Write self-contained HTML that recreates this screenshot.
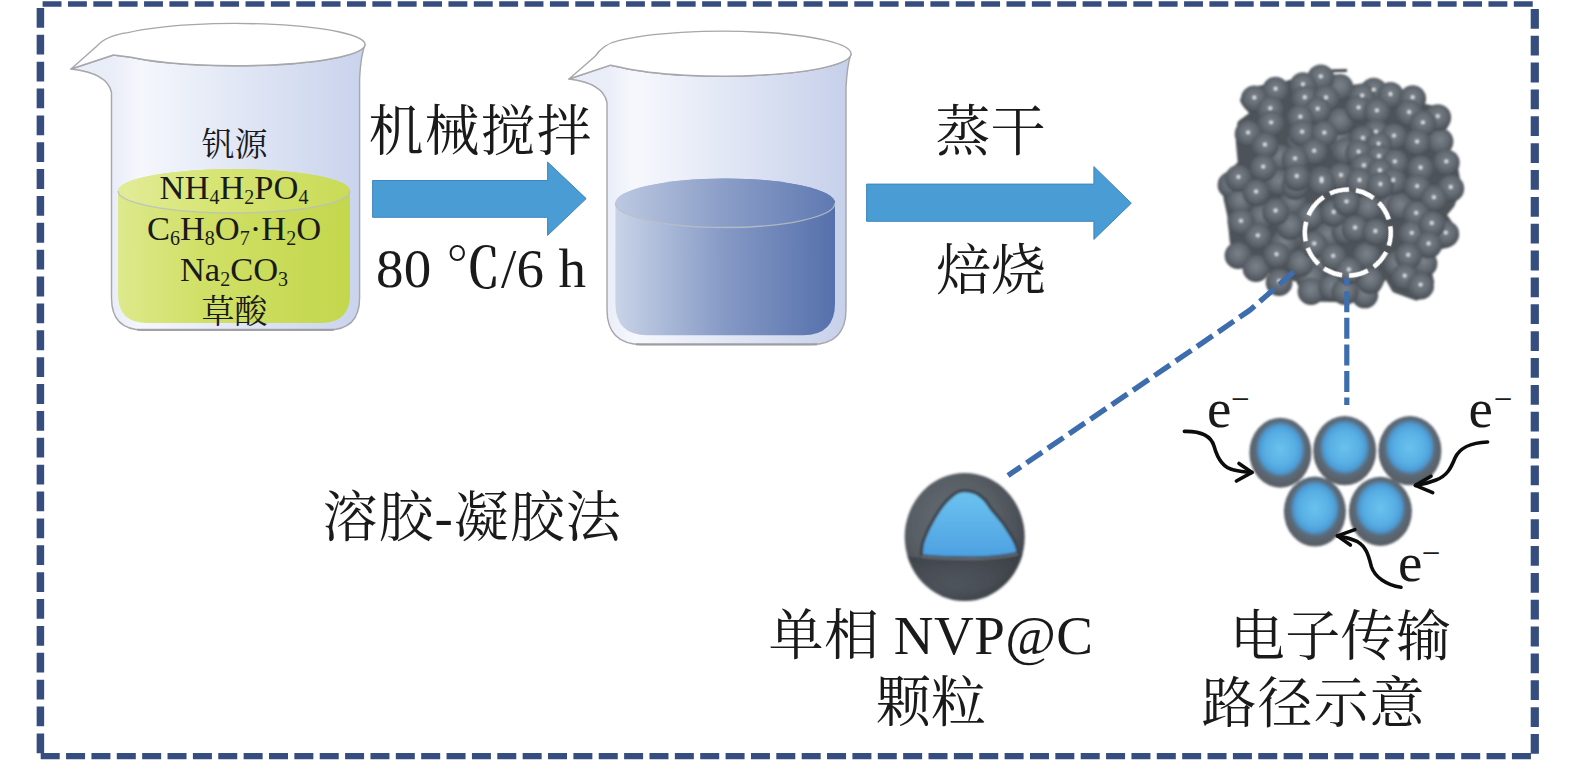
<!DOCTYPE html>
<html lang="zh">
<head>
<meta charset="utf-8">
<title>溶胶-凝胶法</title>
<style>
html,body{margin:0;padding:0;background:#fff;}
body{width:1575px;height:762px;overflow:hidden;}
svg{display:block;}
text{font-family:"Liberation Serif","Noto Serif CJK SC",serif;fill:#1a1a1a;}
.big{font-size:55px;}
.sm{font-size:34.5px;}
.cj{font-size:33px;}
</style>
</head>
<body>
<svg width="1575" height="762" viewBox="0 0 1575 762">
<defs>
<linearGradient id="glass1" x1="111" x2="362" y1="0" y2="0" gradientUnits="userSpaceOnUse">
<stop offset="0" stop-color="#e9edf8"/><stop offset=".12" stop-color="#f5f7fd"/><stop offset=".45" stop-color="#e4e9f6"/><stop offset="1" stop-color="#c9d3ec"/>
</linearGradient>
<linearGradient id="glass2" x1="606" x2="848" y1="0" y2="0" gradientUnits="userSpaceOnUse">
<stop offset="0" stop-color="#e9edf8"/><stop offset=".12" stop-color="#f7f8fd"/><stop offset=".45" stop-color="#e4e9f6"/><stop offset="1" stop-color="#c6d0ea"/>
</linearGradient>
<linearGradient id="liq1" x1="118" x2="350" y1="0" y2="0" gradientUnits="userSpaceOnUse">
<stop offset="0" stop-color="#dde98c"/><stop offset=".35" stop-color="#d0e067"/><stop offset="1" stop-color="#c3d74c"/>
</linearGradient>
<linearGradient id="liq1t" x1="118" x2="350" y1="0" y2="0" gradientUnits="userSpaceOnUse">
<stop offset="0" stop-color="#e2ec98"/><stop offset=".4" stop-color="#d7e575"/><stop offset="1" stop-color="#c9db57"/>
</linearGradient>
<linearGradient id="liq2" x1="615" x2="835" y1="0" y2="0" gradientUnits="userSpaceOnUse">
<stop offset="0" stop-color="#c9d4e8"/><stop offset=".5" stop-color="#8599c5"/><stop offset="1" stop-color="#5570ab"/>
</linearGradient>
<linearGradient id="liq2t" x1="615" x2="835" y1="0" y2="0" gradientUnits="userSpaceOnUse">
<stop offset="0" stop-color="#bdc9e1"/><stop offset=".5" stop-color="#8a9dc7"/><stop offset="1" stop-color="#5f79b1"/>
</linearGradient>
<radialGradient id="sph" cx=".5" cy=".42" r=".55">
<stop offset="0" stop-color="#7b828a"/><stop offset=".5" stop-color="#676e76"/><stop offset=".85" stop-color="#555b62"/><stop offset="1" stop-color="#494e55"/>
</radialGradient>
<radialGradient id="core" cx=".5" cy=".45" r=".5">
<stop offset="0" stop-color="#6ac2ed"/><stop offset=".5" stop-color="#57aee3"/><stop offset=".67" stop-color="#4d9cd6"/><stop offset=".8" stop-color="#5a6b7a"/><stop offset="1" stop-color="#5a6067"/>
</radialGradient>
<radialGradient id="shell" cx=".42" cy=".4" r=".62">
<stop offset="0" stop-color="#6a7077"/><stop offset=".6" stop-color="#575d64"/><stop offset=".88" stop-color="#4a4f56"/><stop offset="1" stop-color="#3e4349"/>
</radialGradient>
<clipPath id="sphclip"><ellipse cx="964.7" cy="537" rx="60" ry="64"/></clipPath>
<linearGradient id="band" x1="0" x2="0" y1="556" y2="588" gradientUnits="userSpaceOnUse">
<stop offset="0" stop-color="#3a3f45" stop-opacity=".85"/><stop offset="1" stop-color="#3a3f45" stop-opacity="0"/>
</linearGradient>
<linearGradient id="blue1" x1="0" x2="0" y1="490" y2="560" gradientUnits="userSpaceOnUse">
<stop offset="0" stop-color="#6cc4ef"/><stop offset="1" stop-color="#4c9fe0"/>
</linearGradient>
<filter id="b1" x="-20%" y="-20%" width="140%" height="140%"><feGaussianBlur stdDeviation="1.2"/></filter>
<filter id="b08" x="-10%" y="-10%" width="120%" height="120%"><feGaussianBlur stdDeviation="0.85"/></filter>
<filter id="b05" x="-10%" y="-10%" width="120%" height="120%"><feGaussianBlur stdDeviation="0.6"/></filter>
</defs>

<!-- outer dashed frame -->
<g stroke="#364d80" fill="none">
<line x1="42.6" y1="4" x2="1534" y2="4" stroke-width="5.6" stroke-dasharray="18.9 6.466"/>
<line x1="40.4" y1="7.9" x2="40.4" y2="753.5" stroke-width="7.5" stroke-dasharray="19.8 7.07"/>
<line x1="1534.8" y1="8.9" x2="1534.8" y2="754" stroke-width="8.2" stroke-dasharray="19.8 7.056"/>
<line x1="40.7" y1="756.2" x2="1531.5" y2="756.2" stroke-width="6.2" stroke-dasharray="19 6.366"/>
</g>

<!-- beaker 1 -->
<path d="M71,69 Q107.5,73 111.5,92.5 L111.5,298 Q111.5,330 143.5,330 L327.6,330 Q359.6,330 359.6,298 L359.6,78.6 Q360.6,56.6 365,44.6 A130,21.2 0 0 1 131.0,57.3 L113.5,55 Z" fill="url(#glass1)" stroke="#a6a6ab" stroke-width="1.4" stroke-linejoin="round"/>
<path d="M137.5,329.8 L333.6,329.8" stroke="#9a9aa0" stroke-width="2.2" fill="none" opacity=".8"/>
<path d="M118,191 A116.0,22 0 0 1 350,191 L350,294 Q350,323 321,323 L147,323 Q118,323 118,294 Z" fill="url(#liq1)"/>
<ellipse cx="234.0" cy="191" rx="116.0" ry="22" fill="url(#liq1t)"/>
<path d="M118,191 A116.0,22 0 0 0 350,191" fill="none" stroke="#b9bfc4" stroke-width="1.3" opacity=".85"/>
<path d="M71,69 L97,46 Q106,35.557522919266155 128.0,32.6 A130,21.2 0 0 1 365,44.6 A130,21.2 0 0 1 131.0,57.3 L113.5,55 Z" fill="#ffffff" stroke="#a6a6ab" stroke-width="1.4" stroke-linejoin="round"/>
<text class="cj" x="234.5" y="156" text-anchor="middle">钒源</text>
<text class="sm" x="234" y="199" text-anchor="middle">NH<tspan font-size="20" dy="4.5">4</tspan><tspan dy="-4.5">H</tspan><tspan font-size="20" dy="4.5">2</tspan><tspan dy="-4.5">PO</tspan><tspan font-size="20" dy="4.5">4</tspan></text>
<text class="sm" x="234" y="240.4" text-anchor="middle">C<tspan font-size="20" dy="4.5">6</tspan><tspan dy="-4.5">H</tspan><tspan font-size="20" dy="4.5">8</tspan><tspan dy="-4.5">O</tspan><tspan font-size="20" dy="4.5">7</tspan><tspan dy="-4.5">·H</tspan><tspan font-size="20" dy="4.5">2</tspan><tspan dy="-4.5">O</tspan></text>
<text class="sm" x="234" y="281" text-anchor="middle">Na<tspan font-size="20" dy="4.5">2</tspan><tspan dy="-4.5">CO</tspan><tspan font-size="20" dy="4.5">3</tspan></text>
<text class="cj" x="234.5" y="322.6" text-anchor="middle">草酸</text>

<!-- arrow 1 -->
<path d="M372.6,180.5 L547.6,180.5 L547.6,162 L586.2,198.6 L547.6,235.4 L547.6,217.3 L372.6,217.3 Z" fill="#4a9cd5" stroke="#3f86bd" stroke-width="1"/>
<text class="big" x="480.6" y="150" text-anchor="middle" letter-spacing="1">机械搅拌</text>
<text class="big" x="376" y="287.3" letter-spacing=".3">80 <tspan font-weight="500">℃</tspan>/6 h</text>

<!-- beaker 2 -->
<path d="M569,79 Q603,83 607,102.5 L607,309.5 Q607,344.5 642,344.5 L811,344.5 Q846,344.5 846,309.5 L846,87.7 Q847,65.7 851,53.7 A128,22.5 0 0 1 620.6,67.2 L610.5,65.2 Z" fill="url(#glass2)" stroke="#a6a6ab" stroke-width="1.4" stroke-linejoin="round"/>
<path d="M636,344.3 L817,344.3" stroke="#9a9aa0" stroke-width="2.2" fill="none" opacity=".8"/>
<path d="M615.4,203 A109.80000000000001,24.5 0 0 1 835,203 L835,303.3 Q835,335.3 803,335.3 L647.4,335.3 Q615.4,335.3 615.4,303.3 Z" fill="url(#liq2)"/>
<ellipse cx="725.2" cy="203" rx="109.80000000000001" ry="24.5" fill="url(#liq2t)"/>
<path d="M615.4,203 A109.80000000000001,24.5 0 0 0 835,203" fill="none" stroke="#b9bfc4" stroke-width="1.3" opacity=".85"/>
<path d="M569,79 L594.6,56.8 Q603.6,43.91906913601361 617.7,40.9 A128,22.5 0 0 1 851,53.7 A128,22.5 0 0 1 620.6,67.2 L610.5,65.2 Z" fill="#ffffff" stroke="#a6a6ab" stroke-width="1.4" stroke-linejoin="round"/>

<!-- arrow 2 -->
<path d="M866.6,184.1 L1093.9,184.1 L1093.9,166.6 L1131.3,203.2 L1093.9,239.4 L1093.9,221.3 L866.6,221.3 Z" fill="#4a9cd5" stroke="#3f86bd" stroke-width="1"/>
<text class="big" x="990.5" y="150" text-anchor="middle">蒸干</text>
<text class="big" x="991" y="289" text-anchor="middle">焙烧</text>

<!-- particle cluster -->
<g filter="url(#b08)">
<path d="M1322,71 L1347,70.5" stroke="#2a2c30" stroke-width="2.5"/>
<polygon points="1308.7,77.5 1336.0,78.9 1340.8,91.0 1355.7,89.0 1375.3,86.8 1395.3,93.2 1411.9,96.7 1422.1,108.0 1439.1,111.3 1444.0,124.6 1434.7,138.1 1448.2,154.8 1453.5,167.8 1457.0,187.5 1450.2,204.3 1441.5,214.5 1450.7,228.0 1447.6,243.2 1428.7,247.4 1425.4,264.7 1429.7,282.0 1416.6,295.9 1395.8,288.5 1385.5,270.5 1375.5,288.2 1355.7,298.0 1308.4,296.9 1299.3,277.8 1275.5,271.6 1248.1,258.8 1234.2,241.7 1231.7,215.0 1227.9,198.0 1228.0,178.1 1242.4,164.0 1240.3,141.3 1241.7,124.2 1255.4,114.0 1244.6,100.2 1258.0,90.4 1285.5,85.7 1295.5,82.7" fill="#4d5359" stroke="#4d5359" stroke-width="9" stroke-linejoin="round"/>
<circle cx="1279.8" cy="157.8" r="13.4" fill="url(#sph)"/>
<circle cx="1278.0" cy="182.5" r="13.4" fill="url(#sph)"/>
<circle cx="1340.0" cy="87.5" r="13.4" fill="url(#sph)"/>
<circle cx="1338.0" cy="140.1" r="13.4" fill="url(#sph)"/>
<circle cx="1327.6" cy="235.8" r="13.4" fill="url(#sph)"/>
<circle cx="1288.6" cy="239.4" r="13.4" fill="url(#sph)"/>
<circle cx="1391.4" cy="207.5" r="13.4" fill="url(#sph)"/>
<circle cx="1424.0" cy="263.5" r="13.4" fill="url(#sph)"/>
<circle cx="1262.0" cy="216.5" r="13.4" fill="url(#sph)"/>
<circle cx="1300.0" cy="141.5" r="13.4" fill="url(#sph)"/>
<circle cx="1345.0" cy="231.5" r="13.4" fill="url(#sph)"/>
<circle cx="1322.0" cy="263.5" r="13.4" fill="url(#sph)"/>
<circle cx="1238.0" cy="255.5" r="13.4" fill="url(#sph)"/>
<circle cx="1256.0" cy="268.5" r="13.4" fill="url(#sph)"/>
<circle cx="1311.0" cy="277.5" r="13.4" fill="url(#sph)"/>
<circle cx="1311.0" cy="291.5" r="13.4" fill="url(#sph)"/>
<circle cx="1332.0" cy="287.5" r="13.4" fill="url(#sph)"/>
<circle cx="1284.0" cy="243.5" r="13.4" fill="url(#sph)"/>
<circle cx="1293.0" cy="202.5" r="13.4" fill="url(#sph)"/>
<circle cx="1231.0" cy="185.0" r="13.4" fill="url(#sph)"/>
<circle cx="1295.0" cy="186.5" r="13.4" fill="url(#sph)"/>
<circle cx="1366.6" cy="255.9" r="13.4" fill="url(#sph)"/>
<circle cx="1368.0" cy="208.1" r="13.4" fill="url(#sph)"/>
<circle cx="1364.8" cy="294.9" r="13.4" fill="url(#sph)"/>
<circle cx="1370.0" cy="280.5" r="13.4" fill="url(#sph)"/>
<circle cx="1396.7" cy="264.5" r="13.4" fill="url(#sph)"/>
<circle cx="1345.0" cy="291.5" r="13.4" fill="url(#sph)"/>
<circle cx="1300.0" cy="263.5" r="13.4" fill="url(#sph)"/>
<circle cx="1240.0" cy="201.5" r="13.4" fill="url(#sph)"/>
<circle cx="1340.0" cy="121.5" r="13.4" fill="url(#sph)"/>
<circle cx="1345.0" cy="151.5" r="13.4" fill="url(#sph)"/>
<circle cx="1440.0" cy="141.5" r="13.4" fill="url(#sph)"/>
<circle cx="1400.0" cy="206.5" r="13.4" fill="url(#sph)"/>
<circle cx="1310.0" cy="216.5" r="13.4" fill="url(#sph)"/>
<circle cx="1290.0" cy="226.5" r="13.4" fill="url(#sph)"/>
<circle cx="1320.8" cy="77.8" r="13.4" fill="url(#sph)"/>
<circle cx="1275.6" cy="90.2" r="13.4" fill="url(#sph)"/>
<circle cx="1303.0" cy="85.7" r="13.4" fill="url(#sph)"/>
<circle cx="1254.3" cy="99.0" r="13.4" fill="url(#sph)"/>
<circle cx="1304.8" cy="98.7" r="13.4" fill="url(#sph)"/>
<circle cx="1326.0" cy="99.0" r="13.4" fill="url(#sph)"/>
<circle cx="1270.3" cy="109.7" r="13.4" fill="url(#sph)"/>
<circle cx="1317.7" cy="110.2" r="13.4" fill="url(#sph)"/>
<circle cx="1300.4" cy="118.2" r="13.4" fill="url(#sph)"/>
<circle cx="1271.1" cy="123.8" r="13.4" fill="url(#sph)"/>
<circle cx="1248.1" cy="133.9" r="13.4" fill="url(#sph)"/>
<circle cx="1302.1" cy="133.2" r="13.4" fill="url(#sph)"/>
<circle cx="1324.3" cy="134.1" r="13.4" fill="url(#sph)"/>
<circle cx="1264.9" cy="146.0" r="13.4" fill="url(#sph)"/>
<circle cx="1314.2" cy="152.2" r="13.4" fill="url(#sph)"/>
<circle cx="1295.0" cy="159.8" r="13.4" fill="url(#sph)"/>
<circle cx="1263.2" cy="168.1" r="13.4" fill="url(#sph)"/>
<circle cx="1238.4" cy="178.4" r="13.4" fill="url(#sph)"/>
<circle cx="1296.8" cy="177.5" r="13.4" fill="url(#sph)"/>
<circle cx="1321.6" cy="180.2" r="13.4" fill="url(#sph)"/>
<circle cx="1341.0" cy="176.5" r="13.4" fill="url(#sph)"/>
<circle cx="1373.7" cy="91.1" r="13.4" fill="url(#sph)"/>
<circle cx="1362.2" cy="96.9" r="13.4" fill="url(#sph)"/>
<circle cx="1390.5" cy="95.5" r="13.4" fill="url(#sph)"/>
<circle cx="1412.7" cy="98.7" r="13.4" fill="url(#sph)"/>
<circle cx="1358.6" cy="108.8" r="13.4" fill="url(#sph)"/>
<circle cx="1376.9" cy="111.8" r="13.4" fill="url(#sph)"/>
<circle cx="1409.1" cy="113.5" r="13.4" fill="url(#sph)"/>
<circle cx="1437.8" cy="117.6" r="13.4" fill="url(#sph)"/>
<circle cx="1422.9" cy="123.8" r="13.4" fill="url(#sph)"/>
<circle cx="1376.0" cy="133.1" r="13.4" fill="url(#sph)"/>
<circle cx="1363.0" cy="139.4" r="13.4" fill="url(#sph)"/>
<circle cx="1394.0" cy="137.1" r="13.4" fill="url(#sph)"/>
<circle cx="1417.1" cy="143.0" r="13.4" fill="url(#sph)"/>
<circle cx="1378.6" cy="145.1" r="13.4" fill="url(#sph)"/>
<circle cx="1358.6" cy="153.1" r="13.4" fill="url(#sph)"/>
<circle cx="1379.0" cy="157.5" r="13.4" fill="url(#sph)"/>
<circle cx="1394.9" cy="162.8" r="13.4" fill="url(#sph)"/>
<circle cx="1446.3" cy="162.8" r="13.4" fill="url(#sph)"/>
<circle cx="1363.9" cy="166.7" r="13.4" fill="url(#sph)"/>
<circle cx="1420.6" cy="169.0" r="13.4" fill="url(#sph)"/>
<circle cx="1379.9" cy="171.7" r="13.4" fill="url(#sph)"/>
<circle cx="1359.5" cy="181.5" r="13.4" fill="url(#sph)"/>
<circle cx="1393.2" cy="181.5" r="13.4" fill="url(#sph)"/>
<circle cx="1380.4" cy="185.5" r="13.4" fill="url(#sph)"/>
<circle cx="1417.1" cy="187.6" r="13.4" fill="url(#sph)"/>
<circle cx="1450.8" cy="188.5" r="13.4" fill="url(#sph)"/>
<circle cx="1256.1" cy="193.0" r="13.4" fill="url(#sph)"/>
<circle cx="1275.6" cy="212.0" r="13.4" fill="url(#sph)"/>
<circle cx="1241.0" cy="222.3" r="13.4" fill="url(#sph)"/>
<circle cx="1257.8" cy="236.8" r="13.4" fill="url(#sph)"/>
<circle cx="1276.5" cy="255.6" r="13.4" fill="url(#sph)"/>
<circle cx="1279.1" cy="282.5" r="13.4" fill="url(#sph)"/>
<circle cx="1314.2" cy="244.9" r="13.4" fill="url(#sph)"/>
<circle cx="1333.7" cy="213.4" r="13.4" fill="url(#sph)"/>
<circle cx="1333.2" cy="257.3" r="13.4" fill="url(#sph)"/>
<circle cx="1346.5" cy="202.8" r="13.4" fill="url(#sph)"/>
<circle cx="1321.6" cy="182.5" r="13.4" fill="url(#sph)"/>
<circle cx="1433.9" cy="198.7" r="13.4" fill="url(#sph)"/>
<circle cx="1416.2" cy="214.3" r="13.4" fill="url(#sph)"/>
<circle cx="1355.1" cy="229.0" r="13.4" fill="url(#sph)"/>
<circle cx="1375.4" cy="232.5" r="13.4" fill="url(#sph)"/>
<circle cx="1411.8" cy="234.3" r="13.4" fill="url(#sph)"/>
<circle cx="1445.8" cy="234.1" r="13.4" fill="url(#sph)"/>
<circle cx="1431.8" cy="224.5" r="13.4" fill="url(#sph)"/>
<circle cx="1428.6" cy="244.9" r="13.4" fill="url(#sph)"/>
<circle cx="1408.2" cy="256.3" r="13.4" fill="url(#sph)"/>
<circle cx="1404.7" cy="277.2" r="13.4" fill="url(#sph)"/>
<circle cx="1420.6" cy="286.1" r="13.4" fill="url(#sph)"/>
<circle cx="1348.9" cy="271.0" r="13.4" fill="url(#sph)"/>
<circle cx="1320.8" cy="76.3" r="1.9" fill="#dfe2e5"/>
<circle cx="1275.6" cy="88.7" r="1.9" fill="#dfe2e5"/>
<circle cx="1303.0" cy="84.2" r="1.9" fill="#dfe2e5"/>
<circle cx="1254.3" cy="97.5" r="1.9" fill="#dfe2e5"/>
<circle cx="1304.8" cy="97.2" r="1.9" fill="#dfe2e5"/>
<circle cx="1326.0" cy="97.5" r="1.9" fill="#dfe2e5"/>
<circle cx="1270.3" cy="108.2" r="1.9" fill="#dfe2e5"/>
<circle cx="1317.7" cy="108.7" r="1.9" fill="#dfe2e5"/>
<circle cx="1300.4" cy="116.7" r="1.9" fill="#dfe2e5"/>
<circle cx="1271.1" cy="122.3" r="1.9" fill="#dfe2e5"/>
<circle cx="1248.1" cy="132.4" r="1.9" fill="#dfe2e5"/>
<circle cx="1302.1" cy="131.7" r="1.9" fill="#dfe2e5"/>
<circle cx="1324.3" cy="132.6" r="1.9" fill="#dfe2e5"/>
<circle cx="1264.9" cy="144.5" r="1.9" fill="#dfe2e5"/>
<circle cx="1314.2" cy="150.7" r="1.9" fill="#dfe2e5"/>
<circle cx="1295.0" cy="158.3" r="1.9" fill="#dfe2e5"/>
<circle cx="1263.2" cy="166.6" r="1.9" fill="#dfe2e5"/>
<circle cx="1238.4" cy="176.9" r="1.9" fill="#dfe2e5"/>
<circle cx="1296.8" cy="176.0" r="1.9" fill="#dfe2e5"/>
<circle cx="1321.6" cy="178.7" r="1.9" fill="#dfe2e5"/>
<circle cx="1341.0" cy="175.0" r="1.9" fill="#dfe2e5"/>
<circle cx="1373.7" cy="89.6" r="1.9" fill="#dfe2e5"/>
<circle cx="1362.2" cy="95.4" r="1.9" fill="#dfe2e5"/>
<circle cx="1390.5" cy="94.0" r="1.9" fill="#dfe2e5"/>
<circle cx="1412.7" cy="97.2" r="1.9" fill="#dfe2e5"/>
<circle cx="1358.6" cy="107.3" r="1.9" fill="#dfe2e5"/>
<circle cx="1376.9" cy="110.3" r="1.9" fill="#dfe2e5"/>
<circle cx="1409.1" cy="112.0" r="1.9" fill="#dfe2e5"/>
<circle cx="1437.8" cy="116.1" r="1.9" fill="#dfe2e5"/>
<circle cx="1422.9" cy="122.3" r="1.9" fill="#dfe2e5"/>
<circle cx="1376.0" cy="131.6" r="1.9" fill="#dfe2e5"/>
<circle cx="1363.0" cy="137.9" r="1.9" fill="#dfe2e5"/>
<circle cx="1394.0" cy="135.6" r="1.9" fill="#dfe2e5"/>
<circle cx="1417.1" cy="141.5" r="1.9" fill="#dfe2e5"/>
<circle cx="1378.6" cy="143.6" r="1.9" fill="#dfe2e5"/>
<circle cx="1358.6" cy="151.6" r="1.9" fill="#dfe2e5"/>
<circle cx="1379.0" cy="156.0" r="1.9" fill="#dfe2e5"/>
<circle cx="1394.9" cy="161.3" r="1.9" fill="#dfe2e5"/>
<circle cx="1446.3" cy="161.3" r="1.9" fill="#dfe2e5"/>
<circle cx="1363.9" cy="165.2" r="1.9" fill="#dfe2e5"/>
<circle cx="1420.6" cy="167.5" r="1.9" fill="#dfe2e5"/>
<circle cx="1379.9" cy="170.2" r="1.9" fill="#dfe2e5"/>
<circle cx="1359.5" cy="180.0" r="1.9" fill="#dfe2e5"/>
<circle cx="1393.2" cy="180.0" r="1.9" fill="#dfe2e5"/>
<circle cx="1380.4" cy="184.0" r="1.9" fill="#dfe2e5"/>
<circle cx="1417.1" cy="186.1" r="1.9" fill="#dfe2e5"/>
<circle cx="1450.8" cy="187.0" r="1.9" fill="#dfe2e5"/>
<circle cx="1256.1" cy="191.5" r="1.9" fill="#dfe2e5"/>
<circle cx="1275.6" cy="210.5" r="1.9" fill="#dfe2e5"/>
<circle cx="1241.0" cy="220.8" r="1.9" fill="#dfe2e5"/>
<circle cx="1257.8" cy="235.3" r="1.9" fill="#dfe2e5"/>
<circle cx="1276.5" cy="254.1" r="1.9" fill="#dfe2e5"/>
<circle cx="1279.1" cy="281.0" r="1.9" fill="#dfe2e5"/>
<circle cx="1314.2" cy="243.4" r="1.9" fill="#dfe2e5"/>
<circle cx="1333.7" cy="211.9" r="1.9" fill="#dfe2e5"/>
<circle cx="1333.2" cy="255.8" r="1.9" fill="#dfe2e5"/>
<circle cx="1346.5" cy="201.3" r="1.9" fill="#dfe2e5"/>
<circle cx="1321.6" cy="181.0" r="1.9" fill="#dfe2e5"/>
<circle cx="1433.9" cy="197.2" r="1.9" fill="#dfe2e5"/>
<circle cx="1416.2" cy="212.8" r="1.9" fill="#dfe2e5"/>
<circle cx="1355.1" cy="227.5" r="1.9" fill="#dfe2e5"/>
<circle cx="1375.4" cy="231.0" r="1.9" fill="#dfe2e5"/>
<circle cx="1411.8" cy="232.8" r="1.9" fill="#dfe2e5"/>
<circle cx="1445.8" cy="232.6" r="1.9" fill="#dfe2e5"/>
<circle cx="1431.8" cy="223.0" r="1.9" fill="#dfe2e5"/>
<circle cx="1428.6" cy="243.4" r="1.9" fill="#dfe2e5"/>
<circle cx="1408.2" cy="254.8" r="1.9" fill="#dfe2e5"/>
<circle cx="1404.7" cy="275.7" r="1.9" fill="#dfe2e5"/>
<circle cx="1420.6" cy="284.6" r="1.9" fill="#dfe2e5"/>
<circle cx="1348.9" cy="269.5" r="1.9" fill="#dfe2e5"/>
</g>
<circle cx="1347.8" cy="232.6" r="43" fill="none" stroke="#ffffff" stroke-width="4.6" stroke-dasharray="19.6 6.9" transform="rotate(-150 1347.8 232.6)" filter="url(#b05)"/>

<!-- connector dashed lines -->
<g stroke="#3e6dad" fill="none" filter="url(#b05)">
<polyline points="1008,475.5 1200,344.5 1250,310 1297,269" stroke-width="5.4" stroke-dasharray="19 6.8" stroke-dashoffset="3.4"/>
<line x1="1346.8" y1="278" x2="1346.8" y2="405" stroke-width="5.2" stroke-dasharray="21 5.6" stroke-dashoffset="13.4"/>
</g>

<!-- single NVP@C particle -->
<g filter="url(#b1)">
<ellipse cx="964.7" cy="537" rx="60" ry="64" fill="url(#shell)"/>
<path d="M900,555 C940,562 990,562 1030,552 L1030,592 L900,592 Z" fill="url(#band)" clip-path="url(#sphclip)"/>
<path d="M921.3,555.8 C921.5,550 922,546 922.5,543.9 C925,535 929,527 934.3,518 C939,510 943,504 948.5,499 C953,494.5 957,491.5 961.5,490.8 C966,490.3 970.5,490.8 974.5,492.4 C978,494 981,496 984,499 C987,502 989,505 991,508.5 L1002.8,522.7 C1007,529 1011,535 1014.7,541.6 C1016.5,545.5 1017.7,549.5 1018.2,553.4 C1002,557 985,558.3 969.8,558.1 C953,558 936,557.3 921.3,555.8 Z" fill="url(#blue1)" stroke="#3d434a" stroke-width="3.2" stroke-linejoin="round"/>
<path d="M921.3,556.5 C936,558 953,558.8 969.8,558.9 C985,559 1002,557.8 1018.2,554.2" fill="none" stroke="#6f767d" stroke-width="1.6"/>
</g>
<text class="big" x="931" y="653.5" text-anchor="middle" letter-spacing=".5">单相 NVP@C</text>
<text class="big" x="931" y="721" text-anchor="middle">颗粒</text>

<!-- electron transport -->
<g filter="url(#b1)">
<ellipse cx="1280.4" cy="452.7" rx="31" ry="35" fill="url(#core)"/>
<ellipse cx="1344.7" cy="450.7" rx="31.5" ry="34.6" fill="url(#core)"/>
<ellipse cx="1409.9" cy="450.7" rx="31.5" ry="34.6" fill="url(#core)"/>
<ellipse cx="1314.9" cy="511.6" rx="31" ry="35" fill="url(#core)"/>
<ellipse cx="1380.4" cy="511.4" rx="31.5" ry="34.6" fill="url(#core)"/>
</g>
<g fill="none" stroke="#0c0c0c" stroke-width="3.6" stroke-linecap="round" stroke-linejoin="round">
<path d="M1184.4,431.4 C1202,431 1211,436 1214,446 C1217,457 1222,468 1234,470 C1240,471.5 1246,472 1252,472.4"/>
<path d="M1239,463.5 L1252,472.4 L1236.4,481"/>
<path d="M1487.6,442 C1470,442.5 1459,449 1455,458 C1451,468 1447,476 1436,480 C1430,482.5 1422,484.5 1415.4,485.4"/>
<path d="M1431,476.2 L1415.4,485.4 L1432.7,492.6"/>
<path d="M1401,587.3 C1386,585 1375,577 1371.5,567 C1369,558 1367,547 1357.6,541.7 C1351,538.5 1344,537 1337.4,535.9"/>
<path d="M1354.8,529.6 L1337.4,535.9 L1350.4,545"/>
</g>
<text class="big" x="1207" y="426.8">e</text><text font-size="33" x="1231" y="409.6">−</text>
<text class="big" x="1468.5" y="426.8">e</text><text font-size="33" x="1493.8" y="409.6">−</text>
<text class="big" x="1398" y="581">e</text><text font-size="33" x="1421.8" y="564.1">−</text>
<text class="big" x="1340.6" y="655.3" text-anchor="middle" letter-spacing=".4">电子传输</text>
<text class="big" x="1313.6" y="721.5" text-anchor="middle" letter-spacing="1">路径示意</text>

<text class="big" x="472.2" y="535.7" text-anchor="middle" letter-spacing="1">溶胶-凝胶法</text>
</svg>
</body>
</html>
